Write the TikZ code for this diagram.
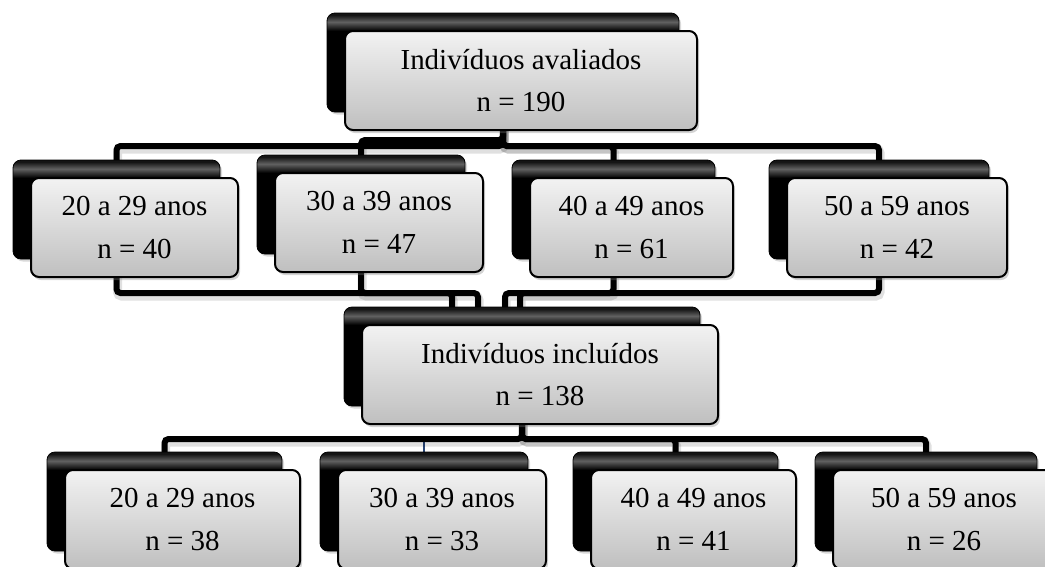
\documentclass[tikz,border=0pt]{standalone}
\usepackage{fontspec}
\setmainfont{Liberation Serif}
\usetikzlibrary{shadows}
\pgfdeclarelayer{background}
\pgfsetlayers{background,main}
\pgfdeclareverticalshading{backshade}{100bp}{color(0bp)=(black); color(66bp)=(black); color(70.5bp)=(black!62); color(74bp)=(black!92); color(100bp)=(black)}
\begin{document}
\begin{tikzpicture}[x=1pt,y=-1pt,
  backbox/.style={rectangle, rounded corners=8pt, shading=backshade, draw=black, line width=0.8pt,
    inner sep=0pt, outer sep=0pt, minimum height=99pt,
    drop shadow={shadow xshift=2pt,shadow yshift=-2.5pt,opacity=0.3}},
  frontbox/.style={rectangle, rounded corners=8pt, draw=black, line width=2pt,
    top color=black!5, bottom color=black!25, inner sep=0pt, outer sep=0pt,
    minimum height=99pt, align=center, font=\fontsize{29}{42.5}\selectfont,
    drop shadow={shadow xshift=2pt,shadow yshift=-3pt,opacity=0.35}},
  conn/.style={draw=black, line width=6pt, rounded corners=4pt,
    preaction={draw=black, draw opacity=0.12, line width=9pt, transform canvas={xshift=1pt,yshift=-3pt}}},
  thinconn/.style={draw={rgb,255:red,40;green,70;blue,120}, line width=2.5pt}
]
\useasboundingbox (0,0) rectangle (1045,566);
\clip (0,0) rectangle (1045,566);

% bar levels and entry points
\coordinate (topbar) at (0,146);
\coordinate (topbarb) at (0,140);
\coordinate (lowbar) at (0,293);
\coordinate (botbar) at (0,439);
\coordinate (m1) at (452,307);
\coordinate (m2) at (478,307);
\coordinate (m3) at (505,307);
\coordinate (m4) at (520,307);

% top
\node[backbox, minimum width=352pt] (tb) at (503,62.5) {};
\node[frontbox, minimum width=352pt] (tf) at (521,80.5) {Indivíduos avaliados\\n = 190};

% row 2
\node[backbox, minimum width=207pt] (a1b) at (116.5,209.5) {};
\node[frontbox, minimum width=207pt] (a1f) at (134.5,227.5) {20 a 29 anos\\n = 40};
\node[backbox, minimum width=208pt] (a2b) at (361,204.5) {};
\node[frontbox, minimum width=208pt] (a2f) at (379,222.5) {30 a 39 anos\\n = 47};
\node[backbox, minimum width=203pt] (a3b) at (613.5,209.5) {};
\node[frontbox, minimum width=203pt] (a3f) at (631.5,227.5) {40 a 49 anos\\n = 61};
\node[backbox, minimum width=220pt] (a4b) at (879,209.5) {};
\node[frontbox, minimum width=220pt] (a4f) at (897,227.5) {50 a 59 anos\\n = 42};

% middle
\node[backbox, minimum width=356pt] (mb) at (522,356.5) {};
\node[frontbox, minimum width=356pt] (mf) at (540,374.5) {Indivíduos incluídos\\n = 138};

% bottom row
\node[backbox, minimum width=235pt] (c1b) at (164.5,501.5) {};
\node[frontbox, minimum width=235pt] (c1f) at (182.5,519.5) {20 a 29 anos\\n = 38};
\node[backbox, minimum width=208pt] (c2b) at (424,501.5) {};
\node[frontbox, minimum width=208pt] (c2f) at (442,519.5) {30 a 39 anos\\n = 33};
\node[backbox, minimum width=205pt] (c3b) at (675.5,501.5) {};
\node[frontbox, minimum width=205pt] (c3f) at (693.5,519.5) {40 a 49 anos\\n = 41};
\node[backbox, minimum width=222pt] (c4b) at (926,501.5) {};
\node[frontbox, minimum width=222pt] (c4f) at (944,519.5) {50 a 59 anos\\n = 26};

\begin{pgfonlayer}{background}
  % top box to row 2
  \draw[conn] (tb.south) -- (tb.south |- topbar) -| (a1b.north);
  \draw[conn] (tb.south) -- (tb.south |- topbarb) -| (a2b.north);
  \draw[conn] (tb.south) -- (tb.south |- topbar) -| (a3b.north);
  \draw[conn] (tb.south) -- (tb.south |- topbar) -| (a4b.north);
  % row 2 to middle box
  \draw[conn] (a1b.south) -- (a1b.south |- lowbar) -| (m1);
  \draw[conn] (a2b.south) -- (a2b.south |- lowbar) -| (m2);
  \draw[conn] (a3b.south) -- (a3b.south |- lowbar) -| (m3);
  \draw[conn] (a4b.south) -- (a4b.south |- lowbar) -| (m4);
  % middle box to bottom row
  \draw[thinconn] (mb.south) -- (mb.south |- botbar) -| (c2b.north);
  \draw[conn] (mb.south) -- (mb.south |- botbar) -| (c1b.north);
  \draw[conn] (mb.south) -- (mb.south |- botbar) -| (c3b.north);
  \draw[conn] (mb.south) -- (mb.south |- botbar) -| (c4b.north);
\end{pgfonlayer}
\end{tikzpicture}
\end{document}
